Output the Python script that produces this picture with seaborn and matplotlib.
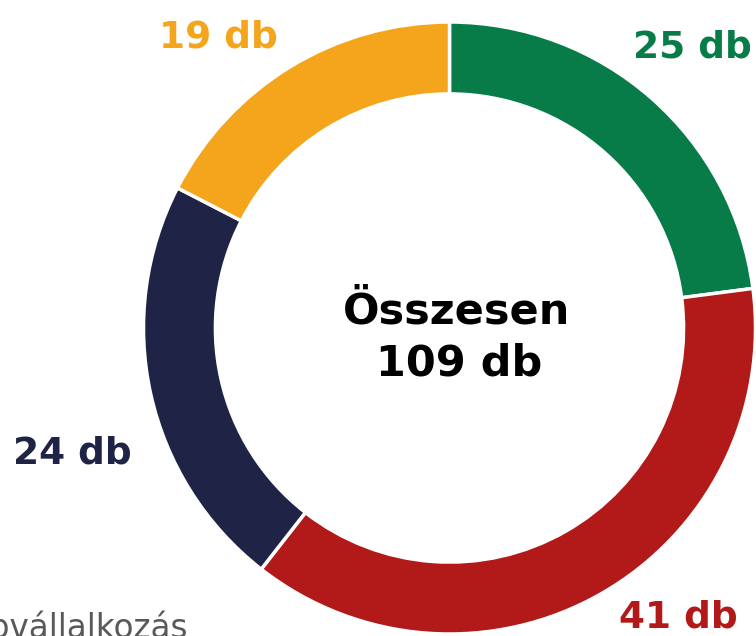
import matplotlib
matplotlib.use("Agg")
import matplotlib.pyplot as plt
import seaborn as sns

# data (clockwise from 12 o'clock)
categories = ["zold", "piros", "sotetkek", "narancs"]
counts = [25, 41, 24, 19]
colors = ["#077B48", "#B21A1A", "#1F2446", "#F5A51C"]
labels = [f"{c} db" for c in counts]
total_title = "Összesen"
total_value = f"{sum(counts)} db"
legend_text = "Középvállalkozás"

sns.set_style("white")
plt.rcParams['font.family'] = ['DejaVu Sans']

W, H = 756, 636
fig = plt.figure(figsize=(W / 100, H / 100), dpi=100)
ax = fig.add_axes([0, 0, 1, 1])

cx, cy, r = 449.5, H - 328, 306
ax.pie(counts, colors=colors, startangle=90, counterclock=False,
       center=(cx, cy), radius=r, frame=True,
       wedgeprops=dict(width=r * 0.235, edgecolor="white", linewidth=2.5))
ax.set_xlim(0, W)
ax.set_ylim(0, H)
ax.set_aspect("equal")
ax.axis("off")

# value labels outside the ring (x centre, baseline y from top)
label_pos = [(692, 57), (678, 628), (72, 463), (218, 48)]
for (x, y), txt, col in zip(label_pos, labels, colors):
    ax.text(x, H - y, txt, color=col, fontsize=27, fontweight="bold",
            ha="center", va="baseline")

ax.text(457, H - 323, total_title, color="black", fontsize=31,
        fontweight="bold", ha="center", va="baseline")
ax.text(459, H - 375, total_value, color="black", fontsize=31,
        fontweight="bold", ha="center", va="baseline")

# legend entry cut off at the lower-left corner, as in the source image
ax.text(-87, H - 638, legend_text, color="#595959", fontsize=23.5,
        ha="left", va="baseline")

fig.savefig("out.png", dpi=100)
